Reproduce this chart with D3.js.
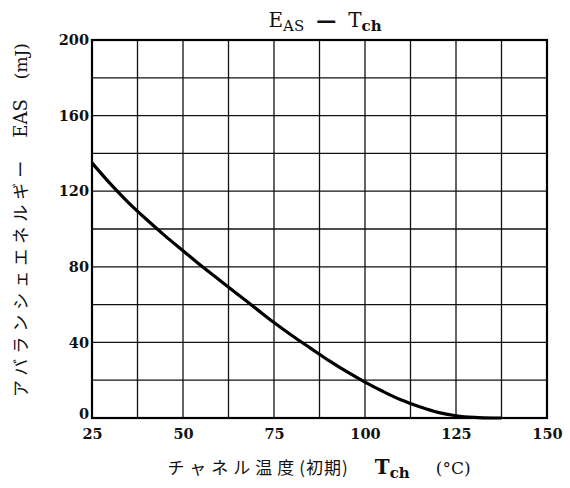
<!DOCTYPE html>
<html><head><meta charset="utf-8">
<script src="https://cdn.jsdelivr.net/npm/d3@7"></script>
<style>body{margin:0;background:#fff}</style>
</head><body><svg id="c" width="570" height="488"></svg>
<script>
const temps = [25,30,35,40,45,50,55,60,65,70,75,80,85,90,95,100,105,110,115,120,125,130,135,137.5];
const eas   = [135,124,114,105,96.5,88.5,80.5,73,65.5,58,50.5,43.5,37,30.5,24.5,19,14,9.5,6,3,1.2,0.3,0,0];
const xTicks = [25,50,75,100,125,150];
const yTicks = [0,40,80,120,160,200];
const xGrid = d3.range(25,150.01,12.5);
const yGrid = d3.range(0,200.01,20);

const svg = d3.select("#c");
const L=92,R=547,T=40,B=418;
const x = d3.scaleLinear().domain([25,150]).range([L,R]);
const y = d3.scaleLinear().domain([0,200]).range([B,T]);
const serif = "'DejaVu Serif', 'Liberation Serif', serif";
const jp = "'Noto Sans CJK JP', sans-serif";

const g = svg.append("g");
g.selectAll(".vg").data(xGrid).enter().append("line")
  .attr("x1",d=>x(d)).attr("x2",d=>x(d)).attr("y1",T).attr("y2",B)
  .attr("stroke","#111").attr("stroke-width",1.3);
g.selectAll(".hg").data(yGrid).enter().append("line")
  .attr("y1",d=>y(d)).attr("y2",d=>y(d)).attr("x1",L).attr("x2",R)
  .attr("stroke","#111").attr("stroke-width",1.3);
g.append("rect").attr("x",L).attr("y",T).attr("width",R-L).attr("height",B-T)
  .attr("fill","none").attr("stroke","#000").attr("stroke-width",2.2);

const xa = svg.append("g").attr("transform",`translate(0,${B})`)
  .call(d3.axisBottom(x).tickValues(xTicks).tickSize(0).tickPadding(11));
xa.select(".domain").remove();
xa.selectAll("text").attr("font-family",serif).attr("font-size",14.5).attr("font-weight","bold").attr("fill","#111");
const ya = svg.append("g").attr("transform",`translate(${L},0)`)
  .call(d3.axisLeft(y).tickValues(yTicks).tickSize(0).tickPadding(3));
ya.select(".domain").remove();
ya.selectAll("text").attr("font-family",serif).attr("font-size",14.5).attr("font-weight","bold").attr("fill","#111")
  .attr("dy",d=>d===0?"0.05em":"0.32em");

const line = d3.line().x((d,i)=>x(temps[i])).y(d=>y(d)).curve(d3.curveMonotoneX);
svg.append("path").attr("d",line(eas)).attr("fill","none").attr("stroke","#000").attr("stroke-width",3.2);

// title
const t = svg.append("text").attr("x",325).attr("y",27).attr("text-anchor","middle")
  .attr("font-family",serif).attr("font-size",20).attr("fill","#111");
t.append("tspan").text("E");
t.append("tspan").attr("font-size",15).attr("dy",4).text("AS");
t.append("tspan").attr("dy",-4).attr("dx",12).attr("font-weight","bold").text("—");
t.append("tspan").attr("dx",12).text("T");
t.append("tspan").attr("font-size",15).attr("dy",4).attr("font-weight","bold").text("ch");

// x label
const xl = svg.append("text").attr("x",319).attr("y",474).attr("text-anchor","middle")
  .attr("font-family",jp).attr("font-size",17).attr("fill","#111");
xl.append("tspan").attr("letter-spacing",5).text("チャネル温度");
xl.append("tspan").attr("letter-spacing",1).text("(初期)");
xl.append("tspan").attr("dx",26).attr("font-family",serif).attr("font-size",20).attr("font-weight","bold").text("T");
xl.append("tspan").attr("font-family",serif).attr("font-size",15).attr("font-weight","bold").attr("dy",4).text("ch");
xl.append("tspan").attr("dy",-4).attr("dx",26).attr("font-family",serif).attr("font-size",17).text("(°C)");

// y label
const yl = svg.append("text").attr("transform","translate(27,220) rotate(-90)").attr("text-anchor","middle")
  .attr("font-family",jp).attr("font-size",17).attr("fill","#111");
yl.append("tspan").attr("letter-spacing",5).text("アバランシェエネルギー");
yl.append("tspan").attr("dx",18).attr("font-family",serif).attr("font-size",18).text("EAS");
yl.append("tspan").attr("dx",20).attr("font-family",serif).attr("font-size",17).text("(mJ)");
</script></body></html>
